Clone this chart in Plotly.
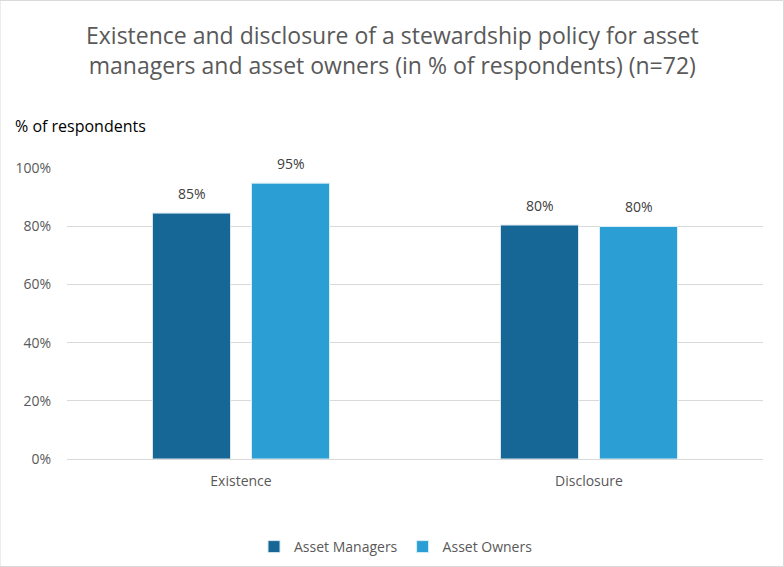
import plotly.graph_objects as go

categories = ["Existence", "Disclosure"]
asset_managers = [0.845, 0.804]
asset_owners = [0.948, 0.799]
am_labels = ["85%", "80%"]
ao_labels = ["95%", "80%"]
y_ticks = [0, 0.2, 0.4, 0.6, 0.8, 1.0]
y_tick_text = ["0%", "20%", "40%", "60%", "80%", "100%"]

FONT = "Open Sans, Noto Sans, sans-serif"
BARGAP = 0.431
GROUPGAP = 0.212
offset = (1 - BARGAP) / 4  # centre offset of each bar within its group (category units)

fig = go.Figure()
fig.add_trace(go.Bar(
    name="Asset Managers", x=categories, y=asset_managers,
    marker=dict(color="#176796", line=dict(color="#d9e6ee", width=1)),
))
fig.add_trace(go.Bar(
    name="Asset Owners", x=categories, y=asset_owners,
    marker=dict(color="#2B9FD4", line=dict(color="#d9eef8", width=1)),
))

annotations = []
for i in range(len(categories)):
    for vals, labs, sign in ((asset_managers, am_labels, -1), (asset_owners, ao_labels, 1)):
        annotations.append(dict(
            x=i + sign * offset, y=vals[i], xref="x", yref="y",
            text=labs[i], showarrow=False, yanchor="bottom", yshift=8,
            font=dict(size=14, color="#404040", family=FONT),
        ))

annotations.append(dict(
    text="Existence and disclosure of a stewardship policy for asset<br>managers and asset owners (in % of respondents) (n=72)",
    xref="paper", yref="paper", x=(392 - 67) / 696, y=1 + (168 - 50) / 291,
    xanchor="center", yanchor="middle", showarrow=False,
    font=dict(size=23, color="#595959", family=FONT),
))
annotations.append(dict(
    text="% of respondents", xref="paper", yref="paper",
    x=-0.077, y=1.145, xanchor="left", yanchor="middle",
    showarrow=False, font=dict(size=16, color="#000000", family=FONT),
))

fig.update_layout(
    width=784, height=567,
    paper_bgcolor="white", plot_bgcolor="white",
    margin=dict(l=67, r=21, t=168, b=108, autoexpand=False),
    barmode="group", bargap=BARGAP, bargroupgap=GROUPGAP,
    font=dict(family=FONT, color="#595959", size=14),
    xaxis=dict(showgrid=False, showline=True, linecolor="#d9d9d9", linewidth=1,
               ticks="outside", ticklen=9, tickcolor="rgba(0,0,0,0)",
               tickfont=dict(size=14, color="#595959")),
    yaxis=dict(range=[0, 1.0], tickvals=y_ticks, ticktext=y_tick_text,
               showgrid=True, gridcolor="#d9d9d9", gridwidth=1, zeroline=False,
               showline=False, tickfont=dict(size=14, color="#595959"),
               ticks="outside", ticklen=12, tickcolor="rgba(0,0,0,0)"),
    legend=dict(orientation="h", x=(396 - 67) / 696, xanchor="center",
                y=-(547 - 459) / 291, yanchor="middle",
                font=dict(size=14, color="#595959"), itemwidth=30, traceorder="normal"),
    annotations=annotations,
    shapes=[dict(type="rect", xref="paper", yref="paper",
                 x0=-67/696, x1=1 + 20.5/696, y0=-107.5/291, y1=1 + 167.5/291,
                 line=dict(color="#d9d9d9", width=1))],
)

fig.write_html("out.html")
